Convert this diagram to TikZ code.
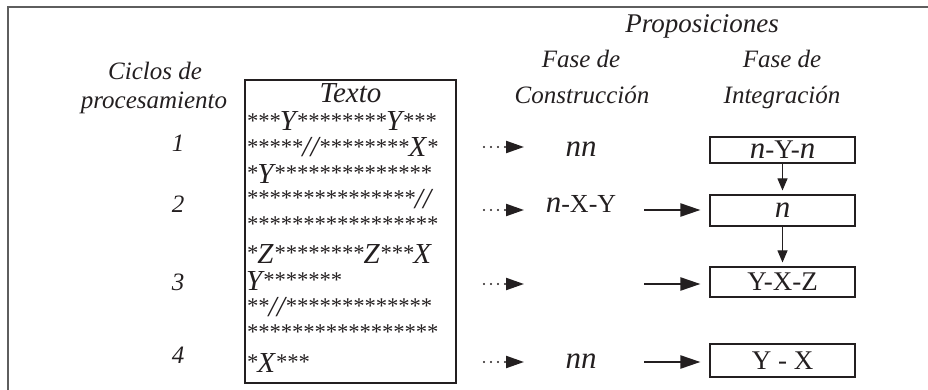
\documentclass[tikz,border=0pt]{standalone}
\usepackage{fontspec}
\setmainfont{Liberation Serif}
\usetikzlibrary{arrows.meta}
\definecolor{ink}{HTML}{231F20}
\definecolor{framegray}{HTML}{5E5E5E}
\newcommand\ST[1]{\raisebox{2.5pt}{\fontsize{22.5}{22.5}\selectfont #1}}
\newcommand\nI{{\fontsize{31}{31}\selectfont\itshape n}}
\tikzset{
  lbl/.style={font=\fontsize{25}{25}\selectfont\itshape, text=ink, inner sep=0, anchor=base},
  txtline/.style={font=\fontsize{29}{29}\selectfont\itshape, text=ink, inner sep=0, anchor=base west},
  rowtxt/.style={font=\fontsize{26}{26}\selectfont, text=ink, inner sep=0, anchor=base},
  propbox/.style={draw=ink, line width=1.1pt, minimum width=145pt, inner sep=0, text=ink, font=\fontsize{27}{27}\selectfont},
  dotarrow/.style={draw=ink, line width=2.2pt, line cap=round, dash pattern=on 0pt off 7pt, -{Triangle[length=18pt,width=12pt,line cap=butt]}},
  solidarrow/.style={draw=ink, line width=2.2pt, -{Triangle[length=20pt,width=13pt]}},
  downarrow/.style={draw=ink, line width=1pt, -{Triangle[length=12pt,width=10pt]}, shorten >=4pt}
}
\begin{document}
\begin{tikzpicture}[x=1pt,y=-1pt]
\useasboundingbox (0,0) rectangle (928,390);
% frame
\draw[framegray, line width=2pt] (8,395) -- (8,7) -- (935,7);
% headers
\node[lbl, font=\fontsize{27}{27}\selectfont\itshape] (prop) at (702,33) {Proposiciones};
\node[lbl] (cic1) at (155,80) {Ciclos de};
\node[lbl] (cic2) at (154,109) {procesamiento};
\node[lbl] (fc1) at (581,68) {Fase de};
\node[lbl] (fc2) at (582,104) {Construcción};
\node[lbl] (fi1) at (782,68) {Fase de};
\node[lbl] (fi2) at (782,104) {Integración};
% cycle numbers
\node[lbl] (n1) at (178,152) {1};
\node[lbl] (n2) at (178,212) {2};
\node[lbl] (n3) at (178,290) {3};
\node[lbl] (n4) at (178,363) {4};
% text box
\node[draw=ink, line width=1.1pt, minimum width=211pt, minimum height=303pt, inner sep=0] (tbox) at (350.5,231.5) {};
\node[lbl, font=\fontsize{29}{29}\selectfont\itshape] (texto) at (350.5,103) {Texto};
\node[txtline] (l1) at (246,131) {\ST{***}Y\ST{********}Y\ST{***}};
\node[txtline] (l2) at (246,157) {\ST{*****}//\ST{********}X\ST{*}};
\node[txtline] (l3) at (246,183) {\ST{*}Y\ST{**************}};
\node[txtline] (l4) at (246,208) {\ST{***************}//};
\node[txtline] (l5) at (246,234) {\ST{*****************}};
\node[txtline] (l6) at (246,263) {\ST{*}Z\ST{********}Z\ST{***}X};
\node[txtline] (l7) at (246,290) {Y\ST{*******}};
\node[txtline] (l8) at (246,316) {\ST{**}//\ST{*************}};
\node[txtline] (l9) at (246,342) {\ST{*****************}};
\node[txtline] (l10) at (246,372) {\ST{*}X\ST{***}};
% construction phase
\node[rowtxt] (c1) at (581,157) {\nI\nI};
\node[rowtxt] (c2) at (581,212) {\nI-X-Y};
\node[rowtxt] (c4) at (581,368) {\nI\nI};
% integration boxes
\node[propbox, minimum height=26pt] (b1) at (782.5,150) {\nI-Y-\nI};
\node[propbox, minimum height=31pt] (b2) at (782.5,210.5) {\nI};
\node[propbox, minimum height=30pt] (b3) at (782.5,282) {Y-X-Z};
\node[propbox, minimum height=33pt] (b4) at (782.5,360.5) {Y - X};
% dotted arrows
\coordinate (d1s) at (484,147); \coordinate (d1e) at (524,147);
\coordinate (d2s) at (484,210); \coordinate (d2e) at (524,210);
\coordinate (d3s) at (484,284); \coordinate (d3e) at (524,284);
\coordinate (d4s) at (484,362); \coordinate (d4e) at (524,362);
\draw[dotarrow] (d1s) -- (d1e);
\draw[dotarrow] (d2s) -- (d2e);
\draw[dotarrow] (d3s) -- (d3e);
\draw[dotarrow] (d4s) -- (d4e);
% solid arrows
\coordinate (s2) at (644,210);
\coordinate (s3) at (644,284);
\coordinate (s4) at (644,362);
\draw[solidarrow, shorten >=9pt] (s2) -- (s2 -| b2.west);
\draw[solidarrow, shorten >=9pt] (s3) -- (s3 -| b3.west);
\draw[solidarrow, shorten >=9pt] (s4) -- (s4 -| b4.west);
% down arrows
\draw[downarrow] (b1.south) -- (b2.north);
\draw[downarrow] (b2.south) -- (b3.north);
\end{tikzpicture}
\end{document}
